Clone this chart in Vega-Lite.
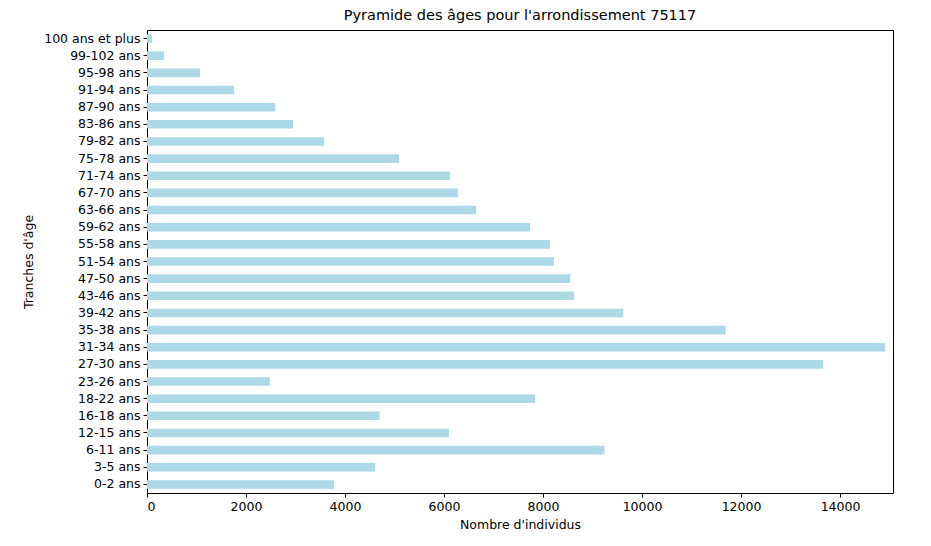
{
  "$schema": "https://vega.github.io/schema/vega-lite/v6.json",
  "autosize": "none",
  "padding": {"left": 147, "top": 30, "right": 38, "bottom": 53},
  "width": 746,
  "height": 463,
  "title": {"text": "Pyramide des âges pour l'arrondissement 75117", "fontSize": 14.5, "fontWeight": "normal", "offset": 7},
  "data": {
    "values": [
      {"age": "100 ans et plus", "n": 100},
      {"age": "99-102 ans", "n": 345},
      {"age": "95-98 ans", "n": 1070},
      {"age": "91-94 ans", "n": 1760},
      {"age": "87-90 ans", "n": 2590},
      {"age": "83-86 ans", "n": 2950},
      {"age": "79-82 ans", "n": 3580},
      {"age": "75-78 ans", "n": 5090},
      {"age": "71-74 ans", "n": 6120},
      {"age": "67-70 ans", "n": 6280},
      {"age": "63-66 ans", "n": 6650},
      {"age": "59-62 ans", "n": 7740},
      {"age": "55-58 ans", "n": 8140},
      {"age": "51-54 ans", "n": 8220},
      {"age": "47-50 ans", "n": 8550},
      {"age": "43-46 ans", "n": 8630},
      {"age": "39-42 ans", "n": 9620},
      {"age": "35-38 ans", "n": 11690},
      {"age": "31-34 ans", "n": 14910},
      {"age": "27-30 ans", "n": 13660},
      {"age": "23-26 ans", "n": 2480},
      {"age": "18-22 ans", "n": 7840},
      {"age": "16-18 ans", "n": 4700},
      {"age": "12-15 ans", "n": 6100},
      {"age": "6-11 ans", "n": 9240},
      {"age": "3-5 ans", "n": 4610},
      {"age": "0-2 ans", "n": 3780}
    ]
  },
  "mark": {"type": "bar", "color": "#add8e6"},
  "encoding": {
    "y": {
      "field": "age", "type": "nominal", "sort": null,
      "title": "Tranches d'âge",
      "scale": {"paddingInner": 0.5, "paddingOuter": 0.25},
      "axis": {"titlePadding": 8}
    },
    "x": {
      "field": "n", "type": "quantitative",
      "title": "Nombre d'individus",
      "scale": {"domain": [0, 15070], "nice": false},
      "axis": {"values": [0, 2000, 4000, 6000, 8000, 10000, 12000, 14000], "format": "d", "titlePadding": 6}
    }
  },
  "config": {
    "font": "DejaVu Sans",
    "view": {"stroke": "black", "strokeWidth": 1},
    "axis": {
      "grid": false, "domain": false, "tickColor": "black", "tickSize": 4,
      "labelColor": "black", "labelFontSize": 12.5, "titleColor": "black",
      "titleFontSize": 12.5, "titleFontWeight": "normal", "labelPadding": 3
    }
  }
}
